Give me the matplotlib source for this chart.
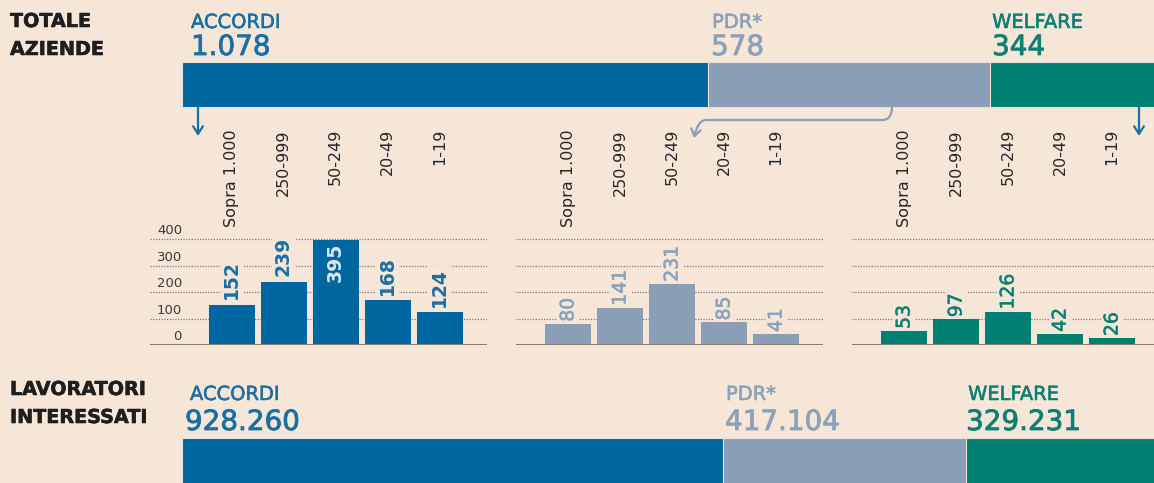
import numpy as np
import matplotlib
matplotlib.use('Agg')
import matplotlib.pyplot as plt
import matplotlib.patheffects as pe
from matplotlib.path import Path
from matplotlib.patches import FancyArrowPatch
from matplotlib.transforms import blended_transform_factory

# dati
gruppi = ['ACCORDI', 'PDR*', 'WELFARE']
aziende_tot = [1078, 578, 344]
aziende_lbl = ['1.078', '578', '344']
lavoratori_tot = [928260, 417104, 329231]
lavoratori_lbl = ['928.260', '417.104', '329.231']
classi = ['Sopra 1.000', '250-999', '50-249', '20-49', '1-19']
accordi = [152, 239, 395, 168, 124]
pdr = [80, 141, 231, 85, 41]
welfare = [53, 97, 126, 42, 26]
y_ticks = [0, 100, 200, 300, 400]

BG = '#f6e6d8'
colori = ['#00669f', '#8a9eb7', '#007f73']
colori_txt = ['#1a6fa3', '#8da1b8', '#0d7f73']
NERO = '#1e1e1e'

plt.rcParams['font.family'] = ['DejaVu Sans']

W, H = 1154, 483
fig = plt.figure(figsize=(W / 100, H / 100), dpi=100, facecolor=BG)
ax0 = fig.add_axes([0, 0, 1, 1])
ax0.set_xlim(0, W)
ax0.set_ylim(H, 0)
ax0.axis('off')


def spesso(c, w=0.5):
    # effetto "semibold"
    return [pe.withStroke(linewidth=w, foreground=c)]


# barre orizzontali impilate (aziende in alto, lavoratori in basso)
BAR_X0, BAR_W = 182, 976


def barra_stack(valori, yc, h):
    tot = sum(valori)
    left = BAR_X0
    lefts = []
    for v, c in zip(valori, colori):
        w = v / tot * BAR_W
        ax0.barh(yc, w, left=left, height=h, color=c, edgecolor='#e9dfd6', linewidth=0.8)
        lefts.append(left)
        left += w
    return lefts


lefts_top = barra_stack(aziende_tot, 84.5, 45)
lefts_bot = barra_stack(lavoratori_tot, 462, 48)

for i in range(3):
    c = colori_txt[i]
    ax0.text(lefts_top[i] + [9, 4, 2][i], 28, gruppi[i], color=c, fontsize=14, va='baseline',
             path_effects=spesso(c, 0.4))
    ax0.text(lefts_top[i] + [9, 3, 2][i], 55, aziende_lbl[i], color=c, fontsize=20, va='baseline',
             path_effects=spesso(c, 0.6))
    ax0.text(lefts_bot[i] + [8, 3, 2][i], 400, gruppi[i], color=c, fontsize=14, va='baseline',
             path_effects=spesso(c, 0.4))
    ax0.text(lefts_bot[i] + [3, 2, 0][i], 430, lavoratori_lbl[i], color=c, fontsize=20, va='baseline',
             path_effects=spesso(c, 0.6))

for testo, y in [('TOTALE', 27), ('AZIENDE', 55), ('LAVORATORI', 395), ('INTERESSATI', 423)]:
    ax0.text(10, y, testo, fontsize=13.8, fontweight='bold', color=NERO, va='baseline',
             path_effects=spesso(NERO, 0.4))

# frecce
freccia = dict(arrowstyle='->,head_length=0.55,head_width=0.35', lw=1.6, shrinkA=0, shrinkB=0)
ax0.annotate('', xy=(198, 136), xytext=(198, 107), arrowprops=dict(freccia, color=colori_txt[0]))
ax0.annotate('', xy=(1139, 136), xytext=(1139, 107), arrowprops=dict(freccia, color=colori_txt[0]))
verts = [(892, 107), (892, 120), (882, 120), (706, 120), (698, 120), (694, 138)]
codes = [Path.MOVETO, Path.CURVE3, Path.CURVE3, Path.LINETO, Path.CURVE3, Path.CURVE3]
ax0.add_patch(FancyArrowPatch(path=Path(verts, codes), arrowstyle='->,head_length=5,head_width=3.5',
                              color=colori[1], lw=1.6, shrinkA=0, shrinkB=0))

# istogrammi per classe dimensionale
serie = [accordi, pdr, welfare]
ax_px = [(150, 487, 231.5), (516, 823, 568), (852, 1154, 904)]
PITCH = 52
Y0_PX = 345
PX_PER_UNIT = 0.265
YMAX = 440

for k, (vals, (l, r, c0)) in enumerate(zip(serie, ax_px)):
    hpx = YMAX * PX_PER_UNIT
    ax = fig.add_axes([l / W, (H - Y0_PX) / H, (r - l) / W, hpx / H])
    ax.set_facecolor('none')
    lo = -(c0 - l) / PITCH
    ax.set_xlim(lo, lo + (r - l) / PITCH)
    ax.set_ylim(0, YMAX)
    ax.axis('off')
    for t in y_ticks[1:]:
        ax.axhline(t, color='#7a7a7a', lw=0.9, ls=(0, (1, 1.2)), zorder=0)
    x = np.arange(len(classi))
    ax.bar(x, vals, width=46 / PITCH, color=colori[k], zorder=2)
    ax.axhline(0, color='#8b7b6d', lw=2.2, zorder=3)

    off = 4 if k == 0 else 1.5
    for xi, v in zip(x, vals):
        if v > 350:
            ax.annotate(str(v), (xi, v), xytext=(0, -2), textcoords='offset points', rotation=90,
                        ha='center', va='top', color='#dce8f1', fontsize=13.5,
                        fontweight='bold', zorder=4)
        else:
            ax.annotate(str(v), (xi, v), xytext=(0, off), textcoords='offset points', rotation=90,
                        ha='center', va='bottom', color=colori_txt[k], fontsize=13.5,
                        fontweight='bold' if k == 0 else 'normal', zorder=4,
                        path_effects=None if k == 0 else spesso(colori_txt[k], 0.4),
                        bbox=dict(boxstyle='square,pad=0.1', fc=BG, ec='none'))

    trans = blended_transform_factory(ax.transData, ax0.transData)
    for xi, lbl in zip(x, classi):
        ax.text(xi, 129, lbl, transform=trans, rotation=90, ha='center', va='top',
                fontsize=11.5, color='#262626')

    if k == 0:
        trans2 = blended_transform_factory(ax0.transData, ax.transData)
        for t in y_ticks:
            ax.annotate(str(t), (182, t), xycoords=trans2, xytext=(0, 3.5), textcoords='offset points',
                        ha='right', va='baseline', fontsize=9.5, color='#3a3a3a')

fig.savefig('out.png', dpi=100, facecolor=BG)
